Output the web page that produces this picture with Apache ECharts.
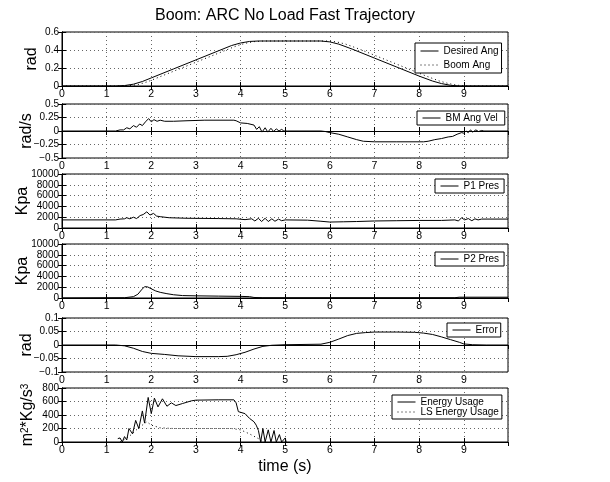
<!DOCTYPE html>
<html>
<head>
<meta charset="utf-8">
<script src="https://cdn.jsdelivr.net/npm/echarts@6/dist/echarts.min.js"></script>
<style>
html, body { margin: 0; padding: 0; background: #fff; }
#chart { width: 610px; height: 482px; }
</style>
</head>
<body>
<div id="chart"></div>
<script>
// ---- data (time in s) ----
const xTicks = [0, 1, 2, 3, 4, 5, 6, 7, 8, 9];

const desiredT = [0, 1.2, 1.4, 1.6, 1.8, 2.0, 2.5, 3.0, 3.5, 3.8, 4.0, 4.2, 4.4, 5.8, 6.0, 6.2, 6.5, 7.0, 7.5, 8.0, 8.3, 8.5, 8.7, 8.9, 9.99];
const desiredAng = [0, 0, 0.005, 0.02, 0.05, 0.09, 0.19, 0.29, 0.39, 0.45, 0.478, 0.495, 0.5, 0.5, 0.49, 0.465, 0.41, 0.31, 0.21, 0.11, 0.055, 0.027, 0.008, 0, 0];
const boomT = [0, 1.32, 1.52, 1.72, 1.92, 2.12, 2.62, 3.12, 3.62, 3.92, 4.12, 4.32, 4.52, 5.95, 6.15, 6.35, 6.65, 7.15, 7.65, 8.15, 8.45, 8.65, 8.85, 9.05, 9.99];
const boomAng = [0, 0, 0.004, 0.018, 0.048, 0.088, 0.188, 0.288, 0.388, 0.448, 0.476, 0.494, 0.5, 0.5, 0.49, 0.466, 0.412, 0.312, 0.212, 0.112, 0.056, 0.028, 0.009, 0, 0];

const velT = [0, 1.2, 1.3, 1.38, 1.45, 1.52, 1.6, 1.67, 1.74, 1.8, 1.87, 1.94, 2.0, 2.06, 2.13, 2.2, 2.3, 2.5, 2.8, 3.2, 3.85, 3.9, 4.0, 4.15, 4.3, 4.36, 4.42, 4.48, 4.55, 4.61, 4.68, 4.74, 4.8, 4.86, 4.92, 4.97, 5.0, 5.05,
  5.8, 5.9, 6.0, 6.2, 6.4, 6.6, 6.75, 7.0, 7.5, 8.1, 8.2, 8.35, 8.5, 8.65, 8.75, 8.85, 8.95, 9.0, 9.05, 9.1, 9.15, 9.2, 9.27, 9.33, 9.4, 9.45, 9.99];
const bmAngVel = [0, 0, 0.02, 0.02, 0.06, 0.04, 0.1, 0.07, 0.13, 0.1, 0.17, 0.23, 0.17, 0.21, 0.18, 0.2, 0.18, 0.18, 0.19, 0.2, 0.2, 0.19, 0.15, 0.14, 0.11, 0.03, 0.08, -0.02, 0.06, -0.02, 0.05, -0.01, 0.04, 0, 0.03, 0, 0.01, 0,
  0, -0.01, -0.03, -0.06, -0.11, -0.16, -0.19, -0.2, -0.2, -0.2, -0.19, -0.16, -0.14, -0.11, -0.1, -0.06, -0.03, -0.04, 0, -0.03, 0.02, -0.02, 0.02, -0.01, 0.01, 0, 0];

const p1T = [0, 1.2, 1.3, 1.4, 1.45, 1.52, 1.6, 1.67, 1.75, 1.82, 1.9, 1.97, 2.05, 2.12, 2.2, 2.4, 2.8, 3.5, 3.9, 4.1, 4.25, 4.32, 4.4, 4.47, 4.55, 4.62, 4.7, 4.77, 4.85, 4.92, 5.0,
  5.5, 5.8, 6.0, 6.3, 6.6, 7.0, 7.5, 8.0, 8.5, 8.8, 8.88, 8.95, 9.02, 9.1, 9.18, 9.25, 9.32, 9.4, 9.99];
const p1Pres = [1500, 1500, 1650, 1700, 1900, 1700, 2000, 1750, 2300, 2500, 3000, 2400, 2700, 2200, 2100, 1900, 1800, 1750, 1700, 1550, 1700, 1300, 1800, 1200, 1800, 1200, 1700, 1250, 1650, 1350, 1500,
  1450, 1250, 1100, 1150, 1200, 1300, 1350, 1400, 1400, 1500, 1300, 1900, 1500, 1750, 1350, 1700, 1500, 1650, 1650];

const p2T = [0, 1.4, 1.6, 1.7, 1.78, 1.85, 1.92, 2.0, 2.1, 2.2, 2.35, 2.5, 2.7, 3.0, 3.5, 4.0, 4.2, 4.3, 4.5, 8.8, 8.9, 9.99];
const p2Pres = [0, 50, 250, 700, 1500, 2100, 2050, 1700, 1300, 1050, 800, 600, 450, 400, 350, 300, 250, 100, 50, 50, 150, 150];

const errT = [0, 1.2, 1.4, 1.6, 1.8, 2.0, 2.3, 2.6, 3.0, 3.5, 3.7, 3.9, 4.1, 4.3, 4.5, 4.7, 5.0, 5.8, 6.0, 6.2, 6.4, 6.6, 6.8, 7.0, 7.5, 7.9, 8.1, 8.3, 8.5, 8.7, 8.9, 9.0, 9.2, 9.5, 9.99];
const errVal = [0, 0, -0.003, -0.012, -0.024, -0.031, -0.035, -0.04, -0.043, -0.043, -0.042, -0.036, -0.027, -0.015, -0.005, -0.001, 0.001, 0.003, 0.01, 0.022, 0.035, 0.043, 0.046, 0.048, 0.048, 0.047, 0.044, 0.039, 0.03, 0.02, 0.01, 0.004, 0.001, 0, 0];

const energyT = [1.25, 1.3, 1.35, 1.4, 1.45, 1.5, 1.58, 1.65, 1.72, 1.8, 1.85, 1.93, 2.0, 2.07, 2.15, 2.25, 2.35, 2.45, 2.55, 2.7, 2.9, 3.0, 3.5, 3.85, 3.9, 3.95, 4.1, 4.2, 4.3, 4.35, 4.4, 4.45, 4.5, 4.55, 4.62, 4.68, 4.75, 4.8, 4.87, 4.92, 5.0, 5.02];
const energyUse = [50, 60, 0, 80, 30, 200, 120, 320, 200, 460, 280, 660, 420, 650, 520, 640, 530, 580, 540, 570, 610, 620, 625, 625, 580, 450, 420, 350, 300, 250, 170, 0, 200, 0, 180, 0, 170, 0, 110, 0, 60, 0];
const lsT = [1.3, 1.5, 1.7, 1.9, 2.0, 2.2, 2.5, 3.0, 3.8, 4.0, 4.2, 4.4, 4.5];
const lsEnergyUse = [0, 80, 200, 300, 250, 210, 200, 200, 200, 180, 120, 50, 0];

// ---- layout ----
const FONT = '"Liberation Sans", Arial, Helvetica, sans-serif';
const gridTops = [32, 104, 174, 244, 318, 388];
const gridH = 54;
const dotted = [1, 3];

const pairs = (t, v) => t.map((x, i) => [x, v[i]]);
const fmtY = v => {
  const a = String(+Math.abs(v).toFixed(4));
  return v < 0 ? '\u2212' + a : a;
};

const panels = [
  { name: 'rad', min: 0, max: 0.6, interval: 0.2, gap: 22,
    lines: [['Desired Ang', desiredT, desiredAng, 'solid'], ['Boom Ang', boomT, boomAng, dotted]],
    legend: { left: 415, top: 43, padding: [3, 3, 3, 5] } },
  { name: 'rad/s', min: -0.5, max: 0.5, interval: 0.25, gap: 27,
    lines: [['BM Ang Vel', velT, bmAngVel, 'solid']],
    legend: { left: 417, top: 111, padding: [2, 7, 2, 5] } },
  { name: 'Kpa', min: 0, max: 10000, interval: 2000, gap: 31,
    lines: [['P1 Pres', p1T, p1Pres, 'solid']],
    legend: { left: 435, top: 179, padding: [2, 5, 2, 5] } },
  { name: 'Kpa', min: 0, max: 10000, interval: 2000, gap: 31,
    lines: [['P2 Pres', p2T, p2Pres, 'solid']],
    legend: { left: 435, top: 252, padding: [2, 5, 2, 5] } },
  { name: 'rad', min: -0.1, max: 0.1, interval: 0.05, gap: 27,
    lines: [['Error', errT, errVal, 'solid']],
    legend: { left: 447, top: 323, padding: [2, 3, 2, 5] } },
  { name: '{a|m}{s|2}{a|*Kg/s}{s|3}', min: 0, max: 800, interval: 200, gap: 26,
    lines: [['Energy Usage', energyT, energyUse, 'solid'], ['LS Energy Usage', lsT, lsEnergyUse, dotted]],
    legend: { left: 392, top: 395, padding: [2, 3, 2, 5] } }
];

const grid = [], xAxis = [], yAxis = [], series = [], legend = [];
const tick = { show: true, inside: true, length: 4, lineStyle: { color: '#000' } };
const axisLine = { show: true, lineStyle: { color: '#000', width: 1 } };

panels.forEach((p, i) => {
  grid.push({ left: 62, right: 102, top: gridTops[i], height: gridH, show: true, borderColor: '#000', borderWidth: 1 });
  const xBase = { type: 'value', gridIndex: i, min: 0, max: 9.99, interval: 1, axisLine, axisTick: tick };
  xAxis.push(Object.assign({}, xBase, {
    position: 'bottom',
    axisLabel: { color: '#000', fontSize: 10.5, fontFamily: FONT, margin: 3, showMaxLabel: false, formatter: v => xTicks.includes(v) ? String(v) : '' },
    splitLine: { show: true, lineStyle: { color: '#666', type: dotted, width: 1 } },
    name: i === panels.length - 1 ? 'time (s)' : '',
    nameLocation: 'middle', nameGap: 17, nameMoveOverlap: false,
    nameTextStyle: { color: '#000', fontSize: 16, fontFamily: FONT }
  }));
  xAxis.push(Object.assign({}, xBase, { position: 'top', axisLabel: { show: false }, splitLine: { show: false } }));
  const yBase = { type: 'value', gridIndex: i, min: p.min, max: p.max, interval: p.interval, axisLine, axisTick: tick };
  yAxis.push(Object.assign({}, yBase, {
    position: 'left',
    axisLabel: { color: '#000', fontSize: 10, fontFamily: FONT, margin: 3, showMinLabel: true, showMaxLabel: true, hideOverlap: false, formatter: fmtY },
    splitLine: { show: true, lineStyle: { color: '#666', type: dotted, width: 1 } },
    name: p.name, nameLocation: 'middle', nameRotate: 90, nameGap: p.gap, nameMoveOverlap: false,
    nameTextStyle: {
      color: '#000', fontSize: 16, fontFamily: FONT,
      rich: { a: { fontSize: 16, fontFamily: FONT, color: '#000' }, s: { fontSize: 10, fontFamily: FONT, color: '#000', verticalAlign: 'top' } }
    }
  }));
  yAxis.push(Object.assign({}, yBase, { position: 'right', axisLabel: { show: false }, splitLine: { show: false } }));

  p.lines.forEach(([name, t, v, type]) => {
    series.push({
      type: 'line', name, xAxisIndex: 2 * i, yAxisIndex: 2 * i,
      data: pairs(t, v), symbol: 'none', showSymbol: false, silent: true,
      lineStyle: { color: '#000', width: 1, type }, itemStyle: { color: '#000' }
    });
  });

  legend.push(Object.assign({
    data: p.lines.map(l => l[0]), orient: 'vertical', selectedMode: false,
    backgroundColor: '#fff', borderColor: '#000', borderWidth: 1, borderRadius: 0,
    itemWidth: 18, itemHeight: 12, itemGap: i === 5 ? 0 : 4,
    itemStyle: { color: 'rgba(0,0,0,0)', borderWidth: 0, opacity: 0 },
    lineStyle: { width: 1, color: '#000' },
    textStyle: { color: '#000', fontSize: 10, fontFamily: FONT }
  }, p.legend));
});

const chart = echarts.init(document.getElementById('chart'));
chart.setOption({
  animation: false,
  backgroundColor: '#fff',
  grid, xAxis, yAxis, series, legend,
  graphic: [{
    type: 'text', x: 285, y: 16,
    style: { text: 'Boom: ARC No Load Fast Trajectory', fill: '#000', font: '16px ' + FONT, textAlign: 'center', textVerticalAlign: 'middle' }
  }]
});
</script>
</body>
</html>
